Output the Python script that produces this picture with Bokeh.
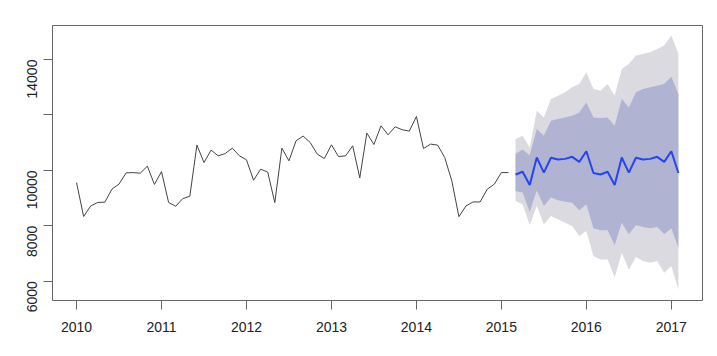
import math
from bokeh.plotting import figure
from bokeh.models import Range1d, FixedTicker
from bokeh.embed import file_html
from bokeh.resources import INLINE

start_year = 2010

# monthly history, Jan 2010 .. Feb 2015
hist_values = [9558, 8335, 8715, 8842, 8853, 9323, 9504, 9910, 9920, 9899, 10152, 9493,
               9957, 8842, 8704, 8979, 9066, 10912, 10282, 10731, 10525, 10608, 10803, 10525,
               10380, 9645, 10043, 9938, 8835, 10803, 10344, 11068, 11238, 11006, 10586, 10427,
               10923, 10499, 10525, 10887, 9729, 11346, 10934, 11610, 11285, 11574, 11466, 11419,
               11947, 10789, 10948, 10912, 10463, 9620, 8328, 8715, 8860, 8860, 9320, 9501,
               9920, 9920]

# forecast, Mar 2015 .. Feb 2017
fc_mean = [9850, 9950, 9475, 10463, 9920, 10455, 10395, 10415, 10489, 10308, 10690, 9905,
           9850, 9950, 9475, 10463, 9920, 10455, 10395, 10415, 10489, 10308, 10690, 9905]
lo80 = [9258, 9197, 8498, 9283, 8715, 9016, 8921, 8871, 8835, 8560, 8777, 7908,
        7834, 7834, 7304, 8111, 7691, 8027, 7955, 7908, 7955, 7691, 7908, 7206]
hi80 = [10600, 10750, 10550, 11491, 11249, 11791, 11853, 11911, 11972, 12092, 12454, 11911,
        11889, 11911, 11611, 12577, 12273, 12816, 12939, 12997, 13058, 13119, 13384, 12758]
lo95 = [8896, 8777, 8027, 8715, 8053, 8353, 8234, 8111, 7991, 7629, 7810, 6906,
        6786, 6786, 6145, 7025, 6424, 6869, 6725, 6663, 6725, 6301, 6544, 5700]
hi95 = [11129, 11249, 10825, 12153, 11911, 12577, 12696, 12816, 12997, 13119, 13540, 12939,
        12877, 13119, 12696, 13663, 13844, 14144, 14204, 14265, 14386, 14506, 14868, 14204]

x_ticks = [2010, 2011, 2012, 2013, 2014, 2015, 2016, 2017]
y_ticks = [6000, 8000, 10000, 12000, 14000]
y_tick_labels = {6000: "6000", 8000: "8000", 10000: "10000", 12000: "", 14000: "14000"}

n_hist = len(hist_values)
hist_t = [start_year + i / 12 for i in range(n_hist)]
fc_t = [start_year + (n_hist + i) / 12 for i in range(len(fc_mean))]

p = figure(width=717, height=356, output_backend="svg", toolbar_location=None,
           x_range=Range1d(2009.717, 2017.367), y_range=Range1d(5302, 15230),
           min_border_left=52, min_border_right=15, min_border_top=25, min_border_bottom=56)
p.background_fill_color = "white"
p.border_fill_color = "white"
p.xgrid.visible = False
p.ygrid.visible = False
p.outline_line_color = "#666666"
p.outline_line_width = 1

p.varea(x=fc_t, y1=lo95, y2=hi95, fill_color="#DADAE0", fill_alpha=1)
p.varea(x=fc_t, y1=lo80, y2=hi80, fill_color="#B0B4D2", fill_alpha=1)
p.line(hist_t, hist_values, line_color="#444444", line_width=1)
p.line(fc_t, fc_mean, line_color="#2545F0", line_width=2)

for ax in (p.xaxis[0], p.yaxis[0]):
    ax.axis_line_color = None
    ax.major_tick_line_color = "#666666"
    ax.major_tick_in = 0
    ax.major_tick_out = 9
    ax.minor_tick_line_color = None
    ax.major_label_text_font = "Liberation Sans"
    ax.major_label_text_font_size = "14px"
    ax.major_label_text_color = "#222222"

p.xaxis[0].ticker = FixedTicker(ticks=x_ticks)
p.xaxis[0].major_label_standoff = 12
p.yaxis[0].ticker = FixedTicker(ticks=y_ticks)
p.yaxis[0].major_label_overrides = y_tick_labels
p.yaxis[0].major_label_orientation = math.pi / 2
p.yaxis[0].major_label_standoff = 11

open("out.html", "w").write(file_html(p, INLINE))
